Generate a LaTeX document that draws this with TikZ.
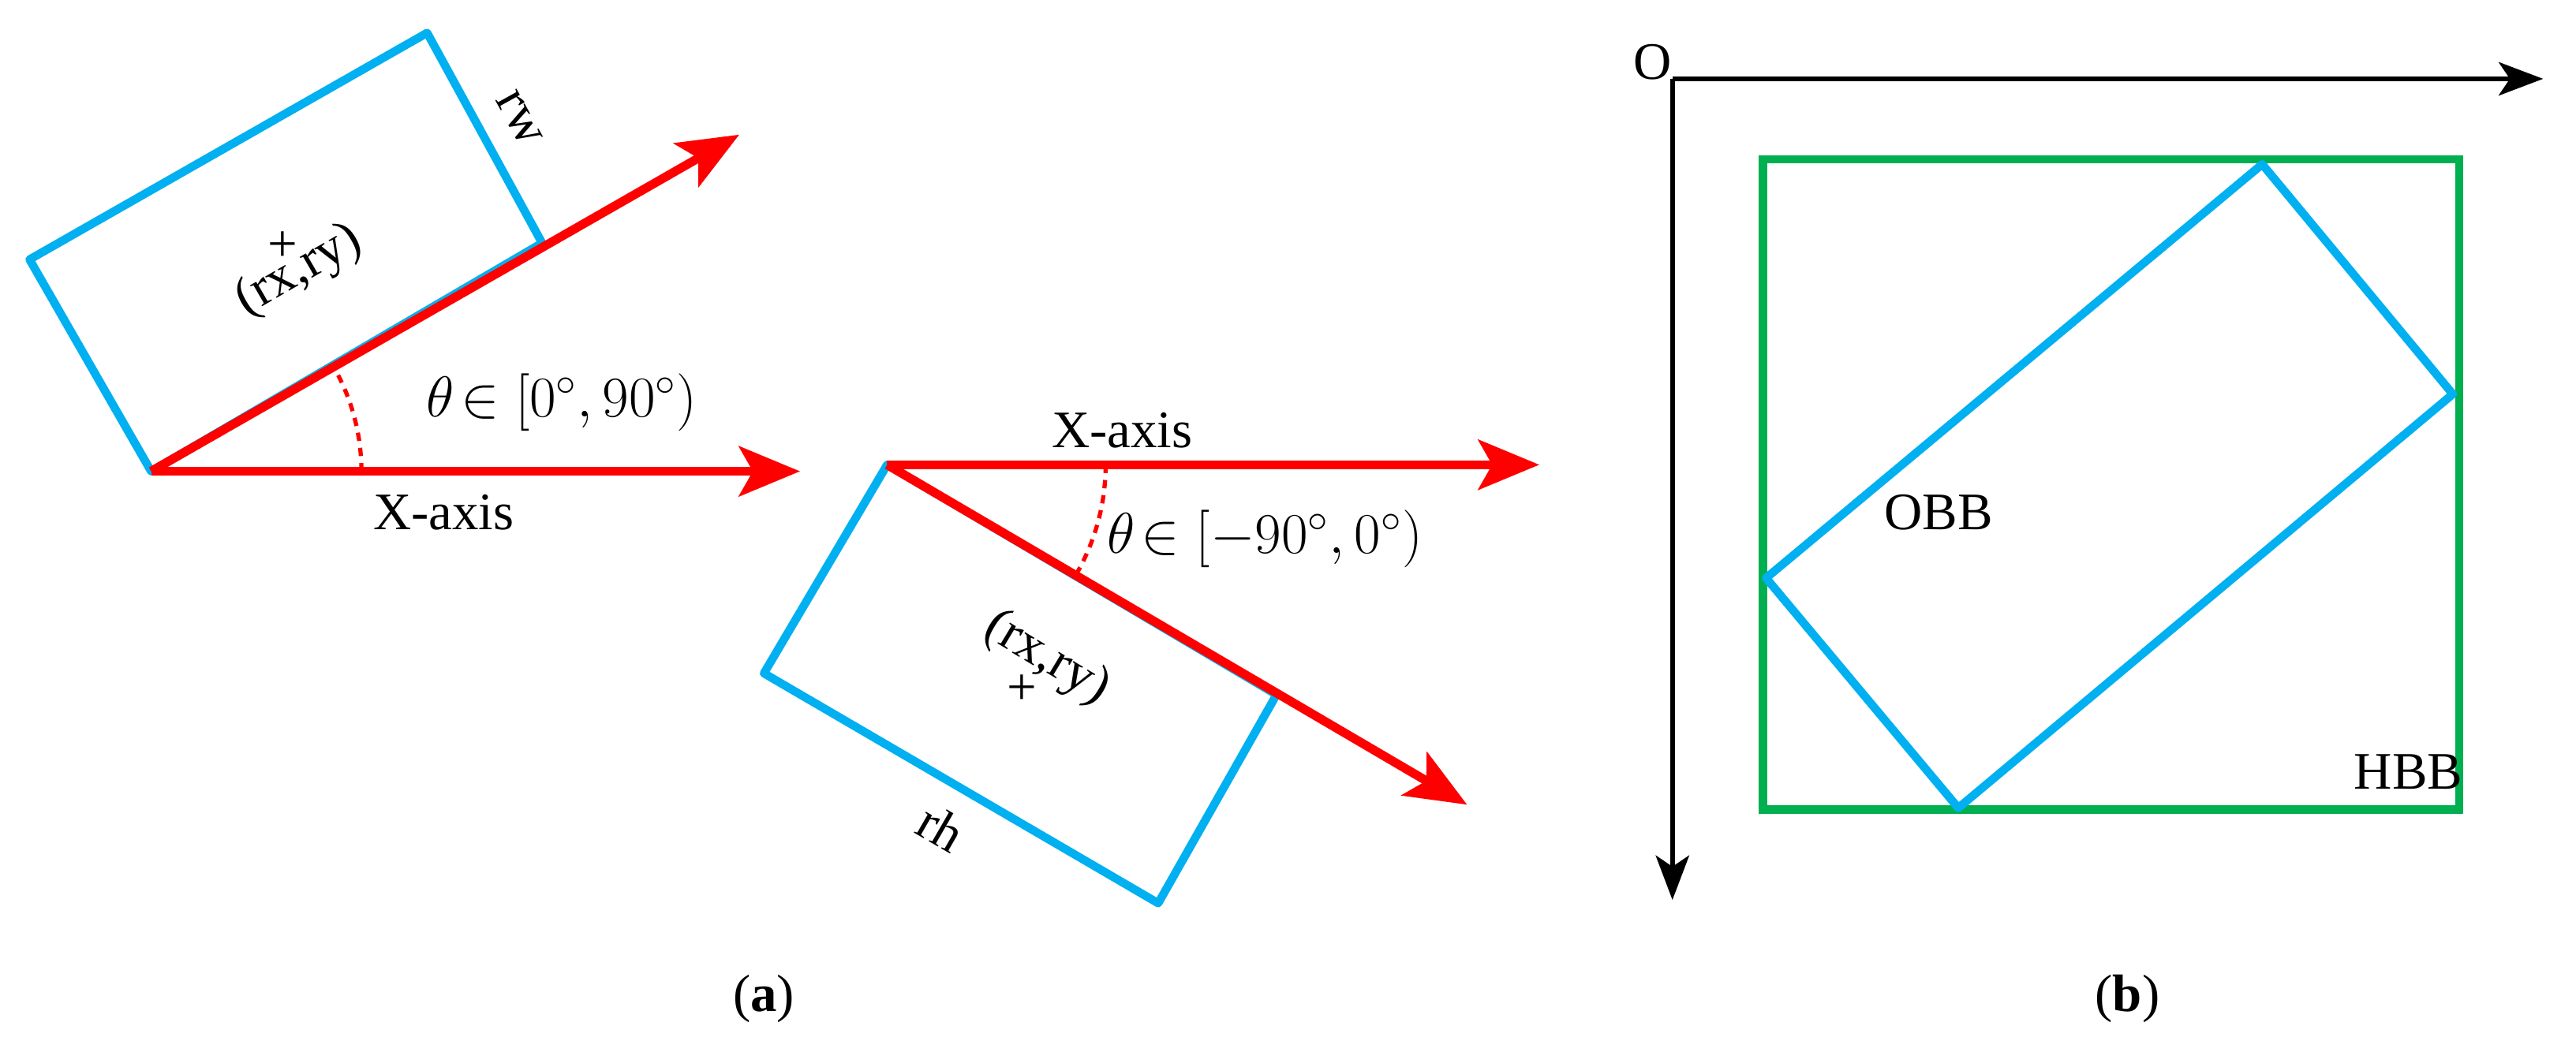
\documentclass[tikz,border=0pt]{standalone}
\usepackage{fontspec}
\setmainfont{Liberation Serif}
\usetikzlibrary{arrows.meta,calc}
\definecolor{cblue}{RGB}{0,176,240}
\definecolor{cgreen}{RGB}{0,176,80}
\begin{document}
\begin{tikzpicture}[x=0.02082cm,y=-0.02082cm,
  box/.style={cblue,line width=3pt,line join=round},
  rarr/.style={red,line width=3.2pt,-{Stealth[length=22pt,width=18pt,inset=5pt]}},
  karr/.style={black,line width=1.8pt,-{Stealth[length=16pt,width=12pt,inset=4pt]}},
  ang/.style={red,line width=1.5pt,dash pattern=on 3pt off 2.5pt},
  lbl/.style={font=\fontsize{19}{22}\selectfont,inner sep=1pt},
  big/.style={font=\fontsize{22}{26}\selectfont,inner sep=1pt}]
\path[use as bounding box,fill=white] (0,0) rectangle (1568,643);
% left rectangle
\coordinate (a1) at (92,287); \coordinate (a2) at (18,158);
\coordinate (a3) at (260,20); \coordinate (a4) at (330,148);
\draw[box] (a1)--(a2)--(a3)--(a4)--cycle;
\coordinate (ta) at (450,82); \coordinate (xa) at (487,287);
\draw[rarr] (a1)--(ta);
\draw[rarr] (a1)--(xa);
\draw[ang] ($(a1)+(128,0)$) arc[start angle=0,end angle=-30,radius=128];
\node[lbl] (plusA) at (172,150) {+};
\node[lbl,rotate=30] (cA) at (182,165) {(rx,ry)};
\node[lbl,rotate=-61] (rw) at (316,72) {rw};
\node[big] (thA) at (342,245) {$\theta\!\in[0^{\circ},90^{\circ})$};
\node[lbl] (xlA) at (270,312) {X-axis};
% second rectangle
\coordinate (b1) at (540,283); \coordinate (b2) at (465,410);
\coordinate (b3) at (705,550); \coordinate (b4) at (777,423);
\draw[box] (b1)--(b2)--(b3)--(b4)--cycle;
\coordinate (tb) at (893,490); \coordinate (xb) at (937,283);
\draw[rarr] (b1)--(xb);
\draw[rarr] (b1)--(tb);
\draw[ang] ($(b1)+(133,0)$) arc[start angle=0,end angle=30,radius=133];
\node[lbl] (plusB) at (622,420) {+};
\node[lbl,rotate=-31] (cB) at (637,401) {(rx,ry)};
\node[lbl,rotate=-30] (rh) at (573,504) {rh};
\node[big] (thB) at (770,328) {$\theta\!\in[-90^{\circ},0^{\circ})$};
\node[lbl] (xlB) at (683,262) {X-axis};
% right panel
\coordinate (o) at (1018,48); \coordinate (ox) at (1548,48); \coordinate (oy) at (1018,548);
\draw[karr] (o)--(ox);
\draw[karr] (o)--(oy);
\node[lbl] (O) at (1006,38) {O};
\draw[cgreen,line width=3pt] (1073,97) rectangle (1497,493);
\coordinate (c1) at (1075,352); \coordinate (c2) at (1377,100);
\coordinate (c3) at (1493,240); \coordinate (c4) at (1192,492);
\draw[box] (c1)--(c2)--(c3)--(c4)--cycle;
\node[lbl] (obb) at (1180,312) {OBB};
\node[lbl] (hbb) at (1466,470) {HBB};
\node[lbl] (capa) at (465,608) {(\textbf{a})};
\node[lbl] (capb) at (1295,608) {(\textbf{b})};
\end{tikzpicture}
\end{document}
